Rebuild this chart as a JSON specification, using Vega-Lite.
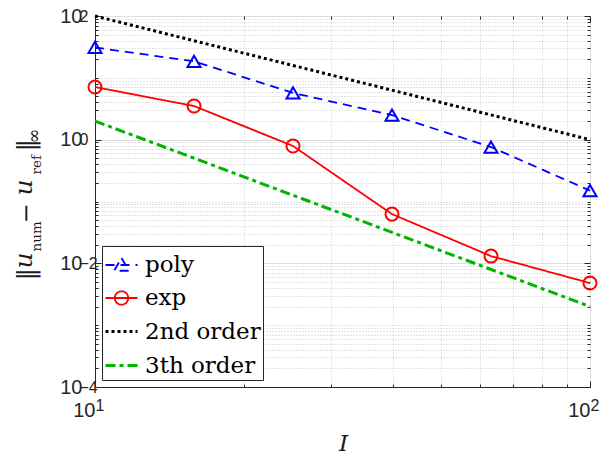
{
  "$schema": "https://vega.github.io/schema/vega-lite/v6.json",
  "width": 495,
  "height": 371,
  "autosize": {"type": "none"},
  "padding": {"left": 95, "top": 16, "right": 25, "bottom": 69},
  "background": "white",
  "config": {
    "view": {"stroke": "#262626", "strokeWidth": 1},
    "axis": {
      "domainColor": "#262626",
      "tickColor": "#262626",
      "labelColor": "#262626",
      "labelFont": "Liberation Sans",
      "labelFontSize": 20,
      "labelOverlap": false,
      "labelFlush": false,
      "labelBound": false,
      "titleColor": "#1a1a1a",
      "titleFont": "DejaVu Serif",
      "titleFontWeight": "normal"
    },
    "legend": {
      "orient": "bottom-left",
      "offset": 7,
      "fillColor": "white",
      "strokeColor": "#262626",
      "padding": 2,
      "labelFont": "DejaVu Serif",
      "labelFontSize": 23,
      "labelColor": "black",
      "labelOffset": 6,
      "symbolSize": 1024,
      "rowPadding": 4
    }
  },
  "data": {
    "values": [
      {"I": 10, "err": 31, "series": "poly"},
      {"I": 15.85, "err": 18.5, "series": "poly"},
      {"I": 25.12, "err": 5.7, "series": "poly"},
      {"I": 39.81, "err": 2.5, "series": "poly"},
      {"I": 63.1, "err": 0.76, "series": "poly"},
      {"I": 100, "err": 0.15, "series": "poly"},
      {"I": 10, "err": 7.1, "series": "exp"},
      {"I": 15.85, "err": 3.5, "series": "exp"},
      {"I": 25.12, "err": 0.79, "series": "exp"},
      {"I": 39.81, "err": 0.0625, "series": "exp"},
      {"I": 63.1, "err": 0.0131, "series": "exp"},
      {"I": 100, "err": 0.0048, "series": "exp"},
      {"I": 10, "err": 100, "series": "2nd order"},
      {"I": 100, "err": 1, "series": "2nd order"},
      {"I": 10, "err": 2, "series": "3th order"},
      {"I": 100, "err": 0.002, "series": "3th order"}
    ]
  },
  "resolve": {"axis": {"x": "independent", "y": "independent"}},
  "layer": [
    {
      "mark": {"type": "line"},
      "encoding": {
        "x": {
          "field": "I", "type": "quantitative",
          "scale": {"type": "log", "domain": [10, 100], "nice": false},
          "axis": {
            "orient": "bottom",
            "values": [10, 20, 30, 40, 50, 60, 70, 80, 90, 100],
            "labelExpr": "datum.value==10||datum.value==100?'10':''",
            "labelAlign": "right",
            "labelBaseline": "alphabetic",
            "labelPadding": 35,
            "encode": {"labels": {"update": {"dx": {"value": 3}}}},
            "tickSize": {"condition": {"test": "datum.value==10||datum.value==100", "value": -6}, "value": -3},
            "gridColor": {"condition": {"test": "datum.value==10||datum.value==100", "value": "#dedede"}, "value": "#c8c8c8"},
            "gridDash": {"condition": {"test": "datum.value==10||datum.value==100", "value": []}, "value": [1, 2]},
            "title": "I",
            "titleFontStyle": "italic",
            "titleFontSize": 23,
            "titleAlign": "center",
            "titleBaseline": "alphabetic",
            "titleX": 248,
            "titleY": 63
          }
        },
        "y": {
          "field": "err", "type": "quantitative",
          "scale": {"type": "log", "domain": [0.0001, 100], "nice": false},
          "axis": {
            "orient": "left",
            "values": [0.0001, 0.0002, 0.0003, 0.0004, 0.0005, 0.0006, 0.0007, 0.0008, 0.0009,
                       0.001, 0.002, 0.003, 0.004, 0.005, 0.006, 0.007, 0.008, 0.009,
                       0.01, 0.02, 0.03, 0.04, 0.05, 0.06, 0.07, 0.08, 0.09,
                       0.1, 0.2, 0.3, 0.4, 0.5, 0.6, 0.7, 0.8, 0.9,
                       1, 2, 3, 4, 5, 6, 7, 8, 9,
                       10, 20, 30, 40, 50, 60, 70, 80, 90, 100],
            "labelExpr": "datum.value==100||datum.value==1||datum.value==0.01||datum.value==0.0001?'10':''",
            "labelPadding": 19,
            "labelBaseline": "middle",
            "encode": {"labels": {"update": {"dx": {"signal": "datum.value < 0.5 ? -10 : 0"}, "dy": {"value": 5}}}},
            "tickSize": {"condition": {"test": "datum.value==100||datum.value==1||datum.value==0.01||datum.value==0.0001", "value": -6}, "value": -3},
            "gridColor": {"condition": {"test": "datum.value==100||datum.value==1||datum.value==0.01||datum.value==0.0001", "value": "#dedede"}, "value": "#c8c8c8"},
            "gridDash": {"condition": {"test": "datum.value==100||datum.value==1||datum.value==0.01||datum.value==0.0001", "value": []}, "value": [1, 2]},
            "title": "‖",
            "titleFontSize": 25,
            "titleAngle": 270, "titleAlign": "left", "titleBaseline": "alphabetic",
            "titleX": -62,
            "titleY": 264
          }
        },
        "color": {
          "field": "series", "type": "nominal",
          "scale": {"domain": ["poly", "exp", "2nd order", "3th order"], "range": ["#0000ff", "#ff0000", "#000000", "#00b400"]},
          "legend": {
            "title": null,
            "encode": {
              "symbols": {
                "update": {
                  "shape": {"signal": "datum.value=='poly' ? 'M-1,0H1M0,-0.44L0.46,0.36L-0.46,0.36Z' : datum.value=='exp' ? 'M-1,0H1M0.42,0A0.42,0.42 0 1,1 -0.42,0A0.42,0.42 0 1,1 0.42,0' : 'M-1,0H1'"},
                  "fill": {"value": "transparent"},
                  "strokeDash": {"signal": "datum.value=='2nd order' ? [3,3] : datum.value=='3th order' ? [10,4,4,4] : [1,0]"},
                  "strokeWidth": {"signal": "datum.value=='2nd order' || datum.value=='3th order' ? 3 : 2"}
                }
              }
            }
          }
        },
        "strokeDash": {
          "field": "series", "type": "nominal",
          "scale": {"domain": ["poly", "exp", "2nd order", "3th order"], "range": [[9, 6], [1, 0], [3, 3], [10, 4, 4, 4]]},
          "legend": null
        },
        "strokeWidth": {
          "field": "series", "type": "nominal",
          "scale": {"type": "ordinal", "domain": ["poly", "exp", "2nd order", "3th order"], "range": [1.8, 1.8, 3, 3]},
          "legend": null
        }
      }
    },
    {
      "transform": [{"filter": "datum.series=='poly'||datum.series=='exp'"}],
      "mark": {"type": "point", "filled": false, "size": 170, "strokeWidth": 2, "opacity": 1},
      "encoding": {
        "x": {
          "field": "I", "type": "quantitative",
          "axis": {"orient": "bottom", "labels": false, "ticks": false, "domain": false, "grid": false,
                   "title": "ref", "titleFontSize": 13.5,
                   "titleAngle": 270, "titleAlign": "left", "titleBaseline": "alphabetic",
                   "titleX": -55, "titleY": -213}
        },
        "y": {
          "field": "err", "type": "quantitative",
          "axis": {"orient": "left", "labels": false, "ticks": false, "domain": false, "grid": false,
                   "title": "‖", "titleFontSize": 25,
                   "titleAngle": 270, "titleAlign": "left", "titleBaseline": "alphabetic",
                   "titleX": -62, "titleY": 135}
        },
        "color": {"field": "series", "type": "nominal"},
        "shape": {
          "field": "series", "type": "nominal",
          "scale": {"domain": ["poly", "exp"], "range": ["triangle-up", "circle"]},
          "legend": null
        }
      }
    },
    {
      "mark": {"type": "point", "opacity": 0},
      "encoding": {
        "x": {
          "field": "I", "type": "quantitative",
          "axis": {
            "orient": "top",
            "values": [10, 20, 30, 40, 50, 60, 70, 80, 90, 100],
            "labels": false, "grid": false, "domain": false,
            "tickSize": {"condition": {"test": "datum.value==10||datum.value==100", "value": -6}, "value": -3},
            "title": "u", "titleFontStyle": "italic", "titleFontSize": 25,
            "titleAngle": 270, "titleAlign": "left", "titleBaseline": "alphabetic",
            "titleX": -64, "titleY": 252
          }
        },
        "y": {
          "field": "err", "type": "quantitative",
          "axis": {
            "orient": "right",
            "values": [0.0001, 0.0002, 0.0003, 0.0004, 0.0005, 0.0006, 0.0007, 0.0008, 0.0009,
                       0.001, 0.002, 0.003, 0.004, 0.005, 0.006, 0.007, 0.008, 0.009,
                       0.01, 0.02, 0.03, 0.04, 0.05, 0.06, 0.07, 0.08, 0.09,
                       0.1, 0.2, 0.3, 0.4, 0.5, 0.6, 0.7, 0.8, 0.9,
                       1, 2, 3, 4, 5, 6, 7, 8, 9,
                       10, 20, 30, 40, 50, 60, 70, 80, 90, 100],
            "labels": false, "grid": false, "domain": false,
            "tickSize": {"condition": {"test": "datum.value==100||datum.value==1||datum.value==0.01||datum.value==0.0001", "value": -6}, "value": -3},
            "title": "num", "titleFontSize": 13.5,
            "titleAngle": 270, "titleAlign": "left", "titleBaseline": "alphabetic",
            "titleX": -550, "titleY": 235
          }
        }
      }
    },
    {
      "mark": {"type": "point", "opacity": 0},
      "encoding": {
        "x": {
          "field": "I", "type": "quantitative",
          "axis": {
            "orient": "bottom",
            "values": [10, 100],
            "labelExpr": "datum.value==10?'1':'2'",
            "labelFontSize": 16,
            "labelAlign": "left",
            "labelBaseline": "alphabetic",
            "labelPadding": 23,
            "encode": {"labels": {"update": {"dx": {"value": 6}}}},
            "ticks": false, "grid": false, "domain": false,
            "title": "−", "titleFontSize": 24,
            "titleAngle": 270, "titleAlign": "left", "titleBaseline": "alphabetic",
            "titleX": -62, "titleY": -164
          }
        },
        "y": {
          "field": "err", "type": "quantitative",
          "axis": {
            "orient": "left",
            "values": [0.0001, 0.01, 1, 100],
            "labelExpr": "datum.value==100?'2':datum.value==1?'0':datum.value==0.01?'−2':'−4'",
            "labelFontSize": 16,
            "labelAlign": "left",
            "labelBaseline": "middle",
            "labelPadding": 16,
            "encode": {"labels": {"update": {"dx": {"signal": "datum.value < 0.5 ? -10 : 0"}, "dy": {"value": -2}}}},
            "ticks": false, "grid": false, "domain": false,
            "title": "u", "titleFontStyle": "italic", "titleFontSize": 25,
            "titleAngle": 270, "titleAlign": "left", "titleBaseline": "alphabetic",
            "titleX": -64, "titleY": 179
          }
        }
      }
    },
    {
      "mark": {"type": "point", "opacity": 0},
      "encoding": {
        "x": {"field": "I", "type": "quantitative", "axis": null},
        "y": {
          "field": "err", "type": "quantitative",
          "axis": {"orient": "left", "labels": false, "ticks": false, "domain": false, "grid": false,
                   "title": "∞", "titleFontSize": 18,
                   "titleAngle": 270, "titleAlign": "left", "titleBaseline": "alphabetic",
                   "titleX": -56, "titleY": 127}
        }
      }
    }
  ]
}
